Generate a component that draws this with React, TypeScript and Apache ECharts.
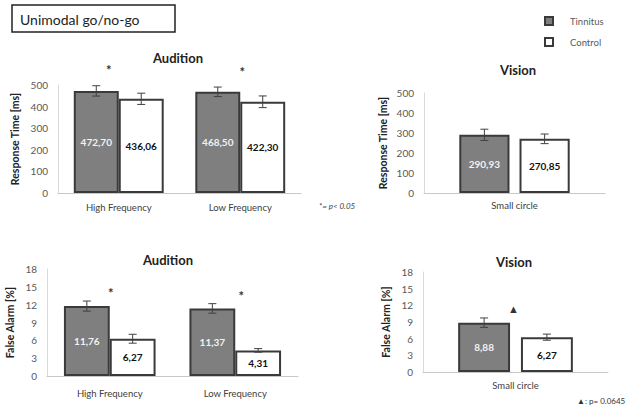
import React, { useEffect, useRef } from "react";
import * as echarts from "echarts";

const categoriesAudition = ["High Frequency", "Low Frequency"];
const categoriesVision = ["Small circle"];
const seriesNames = ["Tinnitus", "Control"];

const rtAuditionTinnitus = [472.7, 468.5];
const rtAuditionTinnitusErr = [24, 22];
const rtAuditionControl = [436.06, 422.3];
const rtAuditionControlErr = [26, 27];

const rtVisionTinnitus = [290.93];
const rtVisionTinnitusErr = [28];
const rtVisionControl = [270.85];
const rtVisionControlErr = [24];

const faAuditionTinnitus = [11.76, 11.37];
const faAuditionTinnitusErr = [0.85, 0.8];
const faAuditionControl = [6.27, 4.31];
const faAuditionControlErr = [0.75, 0.3];

const faVisionTinnitus = [8.88];
const faVisionTinnitusErr = [0.85];
const faVisionControl = [6.27];
const faVisionControlErr = [0.55];

const rtAxisMax = 500;
const rtAxisInterval = 100;
const faAxisMax = 18;
const faAxisInterval = 3;

// significance markers: [category index, value height, symbol]
const rtAuditionMarks = [[0, 569, "*"], [1, 560, "*"]];
const faAuditionMarks = [[0, 14.0, "*"], [1, 13.5, "*"]];
const faVisionMarks = [[0, 11.5, "▲"]];

const FONT = "Lato, 'Liberation Sans', sans-serif";
const GRAY = "#7f7f7f";
const DARK = "#3a3a3a";

const fmt = (v: number) => v.toFixed(2).replace(".", ",");

export default function App() {
  const ref = useRef<HTMLDivElement>(null);
  useEffect(() => {
    if (!ref.current) return;
    const chart = echarts.init(ref.current, null, { renderer: "svg" });

    const panels = [
      { cats: categoriesAudition, t: rtAuditionTinnitus, te: rtAuditionTinnitusErr, c: rtAuditionControl, ce: rtAuditionControlErr, catGap: 0.26, barGap: 0, max: rtAxisMax, interval: rtAxisInterval, name: "Response Time [ms]", nameGap: 38, labelMargin: 9, marks: rtAuditionMarks, markDx: [-10, 2] },
      { cats: categoriesVision, t: rtVisionTinnitus, te: rtVisionTinnitusErr, c: rtVisionControl, ce: rtVisionControlErr, catGap: 0.39, barGap: 0.2, max: rtAxisMax, interval: rtAxisInterval, name: "Response Time [ms]", nameGap: 36, labelMargin: 7, marks: [], markDx: [] },
      { cats: categoriesAudition, t: faAuditionTinnitus, te: faAuditionTinnitusErr, c: faAuditionControl, ce: faAuditionControlErr, catGap: 0.27, barGap: 0, max: faAxisMax, interval: faAxisInterval, name: "False Alarm [%]", nameGap: 32, labelMargin: 12, marks: faAuditionMarks, markDx: [1, 6] },
      { cats: categoriesVision, t: faVisionTinnitus, te: faVisionTinnitusErr, c: faVisionControl, ce: faVisionControlErr, catGap: 0.38, barGap: 0.21, max: faAxisMax, interval: faAxisInterval, name: "False Alarm [%]", nameGap: 32, labelMargin: 8, marks: faVisionMarks, markDx: [-2] },
    ];

    const grids = [
      { left: 58, width: 243, top: 85, height: 108 },
      { left: 424, width: 181, top: 93, height: 100 },
      { left: 47, width: 251, top: 269, height: 107 },
      { left: 423, width: 185, top: 272, height: 100 },
    ];

    const xAxis: any[] = [];
    const yAxis: any[] = [];
    const series: any[] = [];

    panels.forEach((p, gi) => {
      xAxis.push({
        type: "category",
        gridIndex: gi,
        data: p.cats,
        axisLine: { lineStyle: { color: "#c8c8c8", width: 1 } },
        axisTick: { show: false },
        axisLabel: { color: "#404040", fontSize: 9.5, fontFamily: FONT, margin: p.labelMargin },
      });
      yAxis.push({
        type: "value",
        gridIndex: gi,
        min: 0,
        max: p.max,
        interval: p.interval,
        name: p.name,
        nameLocation: "middle",
        nameRotate: 90,
        nameGap: p.nameGap,
        nameTextStyle: { color: "#222", fontSize: 10.5, fontWeight: "bold", fontFamily: FONT },
        axisLine: { show: true, lineStyle: { color: "#d9d9d9" } },
        axisTick: { show: false },
        splitLine: { show: false },
        axisLabel: { color: "#595959", fontSize: 10, fontFamily: FONT, margin: 10 },
      });
      const barCommon = {
        type: "bar",
        xAxisIndex: gi,
        yAxisIndex: gi,
        barGap: `${p.barGap * 100}%`,
        barCategoryGap: `${p.catGap * 100}%`,
      };
      series.push({
        ...barCommon,
        name: seriesNames[0],
        data: p.t,
        itemStyle: { color: GRAY, borderColor: DARK, borderWidth: 2 },
        label: { show: true, position: "inside", formatter: (x: any) => fmt(x.value), color: "#f2f2f2", fontSize: 10, fontWeight: "bold", fontFamily: FONT },
      });
      series.push({
        ...barCommon,
        name: seriesNames[1],
        data: p.c,
        itemStyle: { color: "#ffffff", borderColor: DARK, borderWidth: 2 },
        label: { show: true, position: "inside", formatter: (x: any) => fmt(x.value), color: "#111", fontSize: 10, fontWeight: "bold", fontFamily: FONT },
      });
      [0, 1].forEach((si) => {
        const vals = si === 0 ? p.t : p.c;
        const errs = si === 0 ? p.te : p.ce;
        series.push({
          type: "custom",
          xAxisIndex: gi,
          yAxisIndex: gi,
          silent: true,
          clip: false,
          z: 5,
          data: vals.map((v, i) => [i, v, errs[i]]),
          renderItem: (params: any, api: any) => {
            const cat = api.value(0);
            const val = api.value(1);
            const err = api.value(2);
            const band = api.size([1, 0])[0];
            const bw = (band * (1 - p.catGap)) / (2 + p.barGap);
            const off = bw / 2 + (bw * p.barGap) / 2;
            const c = api.coord([cat, val]);
            const x = c[0] + (si === 0 ? -off : off);
            const yt = api.coord([cat, val + err])[1];
            const yb = api.coord([cat, val - err])[1];
            const st = { stroke: "#404040", lineWidth: 1 };
            return {
              type: "group",
              children: [
                { type: "line", shape: { x1: x, y1: yt, x2: x, y2: yb }, style: st },
                { type: "line", shape: { x1: x - 4, y1: yt, x2: x + 4, y2: yt }, style: st },
                { type: "line", shape: { x1: x - 4, y1: yb, x2: x + 4, y2: yb }, style: st },
              ],
            };
          },
        });
      });
      if (p.marks.length) {
        series.push({
          type: "custom",
          xAxisIndex: gi,
          yAxisIndex: gi,
          silent: true,
          clip: false,
          z: 6,
          data: p.marks,
          renderItem: (params: any, api: any) => {
            const cat = api.value(0);
            const val = api.value(1);
            const txt = p.marks[params.dataIndex][2] as string;
            const c = api.coord([cat, val]);
            return {
              type: "text",
              x: c[0] + (p.markDx[params.dataIndex] || 0),
              y: c[1],
              style: { text: txt, fill: "#333", font: txt === "*" ? `bold 13px ${FONT}` : `11px ${FONT}`, align: "center", verticalAlign: "middle" },
            };
          },
        });
      }
    });

    const titleStyle = { color: "#222", fontSize: 13, fontWeight: "bold", fontFamily: FONT };
    const option: any = {
      animation: false,
      backgroundColor: "#ffffff",
      title: [
        { text: "Audition", left: 173, top: 46, textAlign: "center", textStyle: titleStyle },
        { text: "Vision", left: 513, top: 58, textAlign: "center", textStyle: titleStyle },
        { text: "Audition", left: 163, top: 248, textAlign: "center", textStyle: titleStyle },
        { text: "Vision", left: 509, top: 250, textAlign: "center", textStyle: titleStyle },
      ],
      legend: {
        data: seriesNames,
        orient: "vertical",
        left: 539,
        top: 11,
        icon: "rect",
        itemWidth: 8,
        itemHeight: 8,
        itemGap: 11,
        textStyle: { color: "#595959", fontSize: 9.5, fontFamily: FONT, padding: [0, 0, 0, 12] },
      },
      grid: grids.map((g) => ({ ...g, containLabel: false })),
      xAxis,
      yAxis,
      series,
      graphic: [
        { type: "rect", shape: { x: 12, y: 5, width: 163, height: 27 }, style: { fill: "#fff", stroke: "#222", lineWidth: 1.5 } },
        { type: "text", x: 20, y: 19, style: { text: "Unimodal go/no-go", fill: "#222", font: `14px ${FONT}`, verticalAlign: "middle" } },
        { type: "text", x: 319, y: 206, style: { text: "*= p< 0.05", fill: "#444", font: `italic 8px ${FONT}`, verticalAlign: "middle" } },
        { type: "text", x: 577, y: 401, style: { text: "▲: p= 0.0645", fill: "#333", font: `8px ${FONT}`, verticalAlign: "middle" } },
      ],
    };
    chart.setOption(option);
    return () => chart.dispose();
  }, []);
  return <div ref={ref} style={{ position: "absolute", left: 0, top: 0, width: 631, height: 412 }} />;
}
